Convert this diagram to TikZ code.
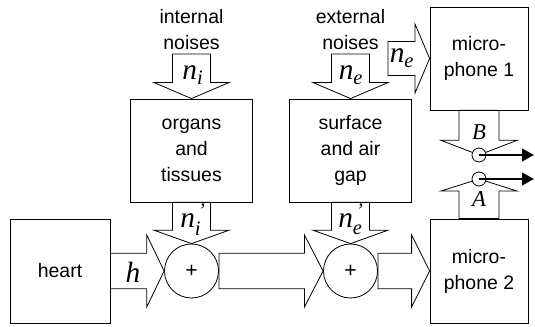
\documentclass[tikz,border=0pt]{standalone}
\usepackage{amsmath}
\usepackage{fontspec}
\setmainfont{Liberation Serif}
\setsansfont{Liberation Sans}
\usetikzlibrary{arrows.meta, calc, positioning}

\newcommand{\fatarrow}[5]{%
  \path (#2) coordinate (tip) ($(#2)!#5!(#1)$) coordinate (neck);
  \draw[fat] ($(#1)!#3!90:(tip)$) -- ($(neck)!#3!90:(tip)$)
    -- ($(neck)!#4!90:(tip)$) -- (tip) -- ($(neck)!#4!-90:(tip)$)
    -- ($(neck)!#3!-90:(tip)$) -- ($(#1)!#3!-90:(tip)$) -- cycle;}

\begin{document}
\begin{tikzpicture}[x=0.75pt, y=-0.75pt,
  txt/.style={font=\sffamily\fontsize{14.6}{19.5}\selectfont, align=center},
  box/.style={txt, draw, line width=0.6pt, inner sep=0pt},
  sum/.style={circle, draw, line width=0.6pt, minimum size=40.5pt,
              inner sep=0pt, font=\sffamily\fontsize{16}{16}\selectfont},
  dot/.style={circle, draw, fill=white, line width=0.6pt,
              minimum size=10.5pt, inner sep=0pt},
  sym/.style={font=\fontsize{22}{22}\selectfont, inner sep=0pt, anchor=base},
  letter/.style={font=\fontsize{17}{17}\selectfont\itshape, inner sep=0pt, anchor=base},
  fat/.style={line width=0.6pt},
  arr/.style={-{Triangle[length=9pt, width=9.5pt]}, line width=1.5pt},
]
\useasboundingbox (0,0) rectangle (535,327);
\node[box, minimum width=75pt, minimum height=78pt] (heart) at (60,271) {heart};
\node[box, minimum width=91pt, minimum height=77.25pt] (org) at (191.5,150.5) {organs\\and\\tissues};
\node[box, minimum width=92pt, minimum height=77.25pt] (surf) at (350.5,150.5) {surface\\and air\\gap};
\node[box, minimum width=73.5pt, minimum height=77.25pt] (mic1) at (479,58.5) {micro-\\phone 1};
\node[box, minimum width=73.5pt, minimum height=78pt] (mic2) at (479,271) {micro-\\phone 2};
\node[txt] (int) at (191.5,30) {internal\\noises};
\node[txt] (ext) at (350.5,30) {external\\noises};
\node[sum] (s1) at (191.5,271) {+};
\node[sum] (s2) at (350.5,271) {+};
\coordinate (nitop) at (191.5,54);
\coordinate (netop) at (350.5,54);
\coordinate (neside) at (388,58.5);
\coordinate (pb) at (479,155);
\coordinate (pa) at (479,179);
\coordinate (outb) at (534,155);
\coordinate (outa) at (534,179);

\fatarrow{nitop}{org.north}{14.25pt}{28pt}{12pt}
\fatarrow{netop}{surf.north}{14.25pt}{28pt}{12pt}
\fatarrow{org.south}{s1.north}{14.25pt}{28pt}{10pt}
\fatarrow{surf.south}{s2.north}{14.25pt}{28pt}{10pt}
\fatarrow{heart.east}{s1.west}{13.25pt}{27pt}{13pt}
\fatarrow{s1.east}{s2.west}{13.25pt}{27pt}{14pt}
\fatarrow{s2.east}{mic2.west}{13.25pt}{27pt}{13.5pt}
\fatarrow{neside}{mic1.west}{12.75pt}{26pt}{11pt}
\fatarrow{mic1.south}{pb}{15pt}{28.5pt}{11pt}
\fatarrow{mic2.north}{pa}{15pt}{28.5pt}{9pt}

\node[dot] (jb) at (pb) {};
\node[dot] (ja) at (pa) {};
\draw[arr] (jb.center) -- (outb);
\draw[arr] (ja.center) -- (outa);

\node[sym] (hl) at (133,283) {\textit{h}};
\node[sym] (nil) at (193,80) {$\textit{n}_{\textit{i}}$};
\node[sym] (nel) at (351,80) {$\textit{n}_{\textit{e}}$};
\node[sym] (nipl) at (193,228) {$\textit{n}_{\textit{i}}^{\,\textit{'}}$};
\node[sym] (nepl) at (351,228) {$\textit{n}_{\textit{e}}^{\,\textit{'}}$};
\node[sym] (nesl) at (402,63) {$\textit{n}_{\textit{e}}$};
\node[letter] (bl) at (479,140) {B};
\node[letter] (al) at (479,207) {A};
\end{tikzpicture}
\end{document}
